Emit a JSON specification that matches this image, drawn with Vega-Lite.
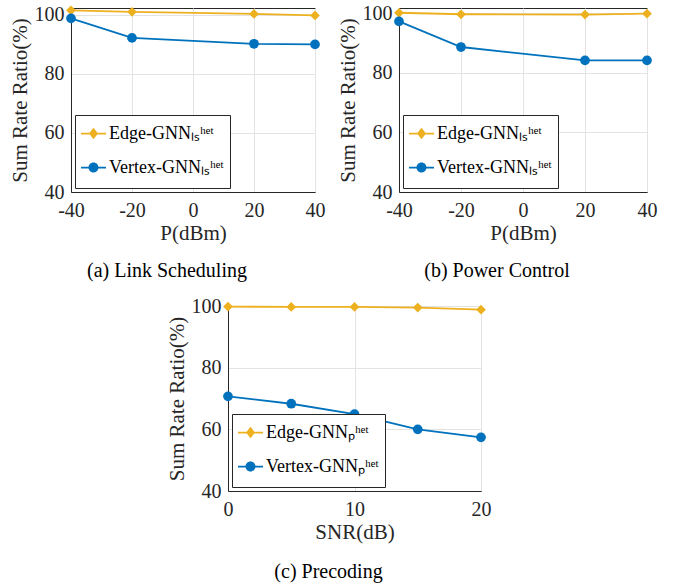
{
  "$schema": "https://vega.github.io/schema/vega-lite/v6.json",
  "padding": {"left": 8, "top": 2, "right": 5, "bottom": 5},
  "background": "white",
  "config": {
    "font": "Liberation Serif",
    "view": {"stroke": "#262626", "strokeWidth": 1},
    "axis": {
      "labelFont": "Liberation Serif", "labelFontSize": 20, "labelColor": "#262626",
      "titleFont": "Liberation Serif", "titleFontSize": 21, "titleFontWeight": "normal", "titleColor": "#262626",
      "domainColor": "#262626", "ticks": false, "labelFlush": false,
      "gridColor": "#e3e3e3", "gridWidth": 1
    },
    "axisX": {"labelPadding": 8, "titlePadding": 2},
    "axisY": {"labelPadding": 7, "titlePadding": 4},
    "legend": {
      "labelFont": "Liberation Serif", "labelFontSize": 18, "labelColor": "#000000",
      "strokeColor": "#262626", "fillColor": "white", "padding": 6, "rowPadding": 5,
      "symbolSize": 625, "symbolStrokeWidth": 0, "symbolOpacity": 1, "labelOffset": 3,
      "orient": "bottom-left", "offset": 4, "title": null
    },
    "title": {"font": "Liberation Serif", "fontSize": 20, "fontWeight": "normal", "color": "#000000", "orient": "bottom", "anchor": "middle", "frame": "bounds", "offset": 18}
  },
  "data": {"values": [
    {"panel": "a", "series": "Edge-GNN\u2097\u209b\u02b0\u1d49\u1d57", "x": -40, "y": 101.4},
    {"panel": "a", "series": "Edge-GNN\u2097\u209b\u02b0\u1d49\u1d57", "x": -20, "y": 100.9},
    {"panel": "a", "series": "Edge-GNN\u2097\u209b\u02b0\u1d49\u1d57", "x": 20, "y": 100.2},
    {"panel": "a", "series": "Edge-GNN\u2097\u209b\u02b0\u1d49\u1d57", "x": 40, "y": 99.7},
    {"panel": "a", "series": "Vertex-GNN\u2097\u209b\u02b0\u1d49\u1d57", "x": -40, "y": 98.7},
    {"panel": "a", "series": "Vertex-GNN\u2097\u209b\u02b0\u1d49\u1d57", "x": -20, "y": 92.1},
    {"panel": "a", "series": "Vertex-GNN\u2097\u209b\u02b0\u1d49\u1d57", "x": 20, "y": 90.1},
    {"panel": "a", "series": "Vertex-GNN\u2097\u209b\u02b0\u1d49\u1d57", "x": 40, "y": 89.9},
    {"panel": "b", "series": "Edge-GNN\u2097\u209b\u02b0\u1d49\u1d57", "x": -40, "y": 100.2},
    {"panel": "b", "series": "Edge-GNN\u2097\u209b\u02b0\u1d49\u1d57", "x": -20, "y": 99.7},
    {"panel": "b", "series": "Edge-GNN\u2097\u209b\u02b0\u1d49\u1d57", "x": 20, "y": 99.6},
    {"panel": "b", "series": "Edge-GNN\u2097\u209b\u02b0\u1d49\u1d57", "x": 40, "y": 99.9},
    {"panel": "b", "series": "Vertex-GNN\u2097\u209b\u02b0\u1d49\u1d57", "x": -40, "y": 97.3},
    {"panel": "b", "series": "Vertex-GNN\u2097\u209b\u02b0\u1d49\u1d57", "x": -20, "y": 88.7},
    {"panel": "b", "series": "Vertex-GNN\u2097\u209b\u02b0\u1d49\u1d57", "x": 20, "y": 84.2},
    {"panel": "b", "series": "Vertex-GNN\u2097\u209b\u02b0\u1d49\u1d57", "x": 40, "y": 84.2},
    {"panel": "c", "series": "Edge-GNN\u209a\u02b0\u1d49\u1d57", "x": 0, "y": 99.8},
    {"panel": "c", "series": "Edge-GNN\u209a\u02b0\u1d49\u1d57", "x": 5, "y": 99.7},
    {"panel": "c", "series": "Edge-GNN\u209a\u02b0\u1d49\u1d57", "x": 10, "y": 99.7},
    {"panel": "c", "series": "Edge-GNN\u209a\u02b0\u1d49\u1d57", "x": 15, "y": 99.5},
    {"panel": "c", "series": "Edge-GNN\u209a\u02b0\u1d49\u1d57", "x": 20, "y": 98.8},
    {"panel": "c", "series": "Vertex-GNN\u209a\u02b0\u1d49\u1d57", "x": 0, "y": 70.7},
    {"panel": "c", "series": "Vertex-GNN\u209a\u02b0\u1d49\u1d57", "x": 5, "y": 68.3},
    {"panel": "c", "series": "Vertex-GNN\u209a\u02b0\u1d49\u1d57", "x": 10, "y": 64.9},
    {"panel": "c", "series": "Vertex-GNN\u209a\u02b0\u1d49\u1d57", "x": 15, "y": 60.0},
    {"panel": "c", "series": "Vertex-GNN\u209a\u02b0\u1d49\u1d57", "x": 20, "y": 57.4}
  ]},
  "vconcat": [
    {
      "hconcat": [
        {
          "transform": [{"filter": "datum.panel == 'a'"}],
          "width": 244, "height": 184,
          "title": {"text": "(a)  Link Scheduling"},
          "encoding": {
            "x": {"field": "x", "type": "quantitative", "scale": {"domain": [-40, 40], "nice": false, "zero": false}, "axis": {"values": [-40, -20, 0, 20, 40], "title": "P(dBm)", "labelExpr": "'' + datum.value"}},
            "y": {"field": "y", "type": "quantitative", "scale": {"domain": [40, 102.2], "nice": false, "zero": false}, "axis": {"values": [40, 60, 80, 100], "title": "Sum Rate Ratio(%)"}},
            "color": {"field": "series", "type": "nominal",
              "scale": {"domain": ["Edge-GNN\u2097\u209b\u02b0\u1d49\u1d57", "Vertex-GNN\u2097\u209b\u02b0\u1d49\u1d57"], "range": ["#EDB120", "#0072BD"]}}
          },
          "layer": [
            {"mark": {"type": "line", "strokeWidth": 1.8}},
            {"transform": [{"filter": "indexof(datum.series, 'Edge') === 0"}], "mark": {"type": "point", "shape": "diamond", "filled": true, "size": 95, "opacity": 1}},
            {"transform": [{"filter": "indexof(datum.series, 'Vertex') === 0"}], "mark": {"type": "point", "shape": "circle", "filled": true, "size": 95, "opacity": 1}},
            {"mark": {"type": "point", "filled": true, "opacity": 0},
             "encoding": {"shape": {"field": "series", "type": "nominal", "scale": {"domain": ["Edge-GNN\u2097\u209b\u02b0\u1d49\u1d57", "Vertex-GNN\u2097\u209b\u02b0\u1d49\u1d57"], "range": ["M-1,-1.1L-1,-1.1M1,1.1L1,1.1M-1,-0.07H1V0.07H-1ZM0,-0.46L0.36,0L0,0.46L-0.36,0Z", "M-1,-1.1L-1,-1.1M1,1.1L1,1.1M-1,-0.07H1V0.07H-1ZM0.4,0A0.4,0.4,0,1,1,-0.4,0A0.4,0.4,0,1,1,0.4,0Z"]}}}}
          ]
        },
        {
          "transform": [{"filter": "datum.panel == 'b'"}],
          "width": 248, "height": 184,
          "title": {"text": "(b)  Power Control"},
          "encoding": {
            "x": {"field": "x", "type": "quantitative", "scale": {"domain": [-40, 40], "nice": false, "zero": false}, "axis": {"values": [-40, -20, 0, 20, 40], "title": "P(dBm)", "labelExpr": "'' + datum.value"}},
            "y": {"field": "y", "type": "quantitative", "scale": {"domain": [40, 101.8], "nice": false, "zero": false}, "axis": {"values": [40, 60, 80, 100], "title": "Sum Rate Ratio(%)"}},
            "color": {"field": "series", "type": "nominal",
              "scale": {"domain": ["Edge-GNN\u2097\u209b\u02b0\u1d49\u1d57", "Vertex-GNN\u2097\u209b\u02b0\u1d49\u1d57"], "range": ["#EDB120", "#0072BD"]}}
          },
          "layer": [
            {"mark": {"type": "line", "strokeWidth": 1.8}},
            {"transform": [{"filter": "indexof(datum.series, 'Edge') === 0"}], "mark": {"type": "point", "shape": "diamond", "filled": true, "size": 95, "opacity": 1}},
            {"transform": [{"filter": "indexof(datum.series, 'Vertex') === 0"}], "mark": {"type": "point", "shape": "circle", "filled": true, "size": 95, "opacity": 1}},
            {"mark": {"type": "point", "filled": true, "opacity": 0},
             "encoding": {"shape": {"field": "series", "type": "nominal", "scale": {"domain": ["Edge-GNN\u2097\u209b\u02b0\u1d49\u1d57", "Vertex-GNN\u2097\u209b\u02b0\u1d49\u1d57"], "range": ["M-1,-1.1L-1,-1.1M1,1.1L1,1.1M-1,-0.07H1V0.07H-1ZM0,-0.46L0.36,0L0,0.46L-0.36,0Z", "M-1,-1.1L-1,-1.1M1,1.1L1,1.1M-1,-0.07H1V0.07H-1ZM0.4,0A0.4,0.4,0,1,1,-0.4,0A0.4,0.4,0,1,1,0.4,0Z"]}}}}
          ]
        }
      ],
      "spacing": 10,
      "resolve": {"scale": {"color": "independent", "shape": "independent", "x": "independent", "y": "independent"}, "legend": {"color": "independent", "shape": "independent"}}
    },
    {
      "hconcat": [
        {"width": 94, "height": 10, "data": {"values": []}, "mark": "point", "view": {"stroke": null}},
        {
          "transform": [{"filter": "datum.panel == 'c'"}],
          "width": 253, "height": 185,
          "title": {"text": "(c)  Precoding", "offset": 20},
          "encoding": {
            "x": {"field": "x", "type": "quantitative", "scale": {"domain": [0, 20], "nice": false, "zero": false}, "axis": {"values": [0, 10, 20], "title": "SNR(dB)"}},
            "y": {"field": "y", "type": "quantitative", "scale": {"domain": [40, 100], "nice": false, "zero": false}, "axis": {"values": [40, 60, 80, 100], "title": "Sum Rate Ratio(%)"}},
            "color": {"field": "series", "type": "nominal",
              "scale": {"domain": ["Edge-GNN\u209a\u02b0\u1d49\u1d57", "Vertex-GNN\u209a\u02b0\u1d49\u1d57"], "range": ["#EDB120", "#0072BD"]}}
          },
          "layer": [
            {"mark": {"type": "line", "strokeWidth": 1.8}},
            {"transform": [{"filter": "indexof(datum.series, 'Edge') === 0"}], "mark": {"type": "point", "shape": "diamond", "filled": true, "size": 95, "opacity": 1}},
            {"transform": [{"filter": "indexof(datum.series, 'Vertex') === 0"}], "mark": {"type": "point", "shape": "circle", "filled": true, "size": 95, "opacity": 1}},
            {"mark": {"type": "point", "filled": true, "opacity": 0},
             "encoding": {"shape": {"field": "series", "type": "nominal", "scale": {"domain": ["Edge-GNN\u209a\u02b0\u1d49\u1d57", "Vertex-GNN\u209a\u02b0\u1d49\u1d57"], "range": ["M-1,-1.1L-1,-1.1M1,1.1L1,1.1M-1,-0.07H1V0.07H-1ZM0,-0.46L0.36,0L0,0.46L-0.36,0Z", "M-1,-1.1L-1,-1.1M1,1.1L1,1.1M-1,-0.07H1V0.07H-1ZM0.4,0A0.4,0.4,0,1,1,-0.4,0A0.4,0.4,0,1,1,0.4,0Z"]}}}}
          ]
        }
      ],
      "spacing": 0,
      "resolve": {"scale": {"color": "independent", "shape": "independent", "x": "independent", "y": "independent"}, "legend": {"color": "independent", "shape": "independent"}}
    }
  ],
  "spacing": 13,
  "resolve": {"scale": {"color": "independent", "shape": "independent", "x": "independent", "y": "independent"}, "legend": {"color": "independent", "shape": "independent"}}
}
